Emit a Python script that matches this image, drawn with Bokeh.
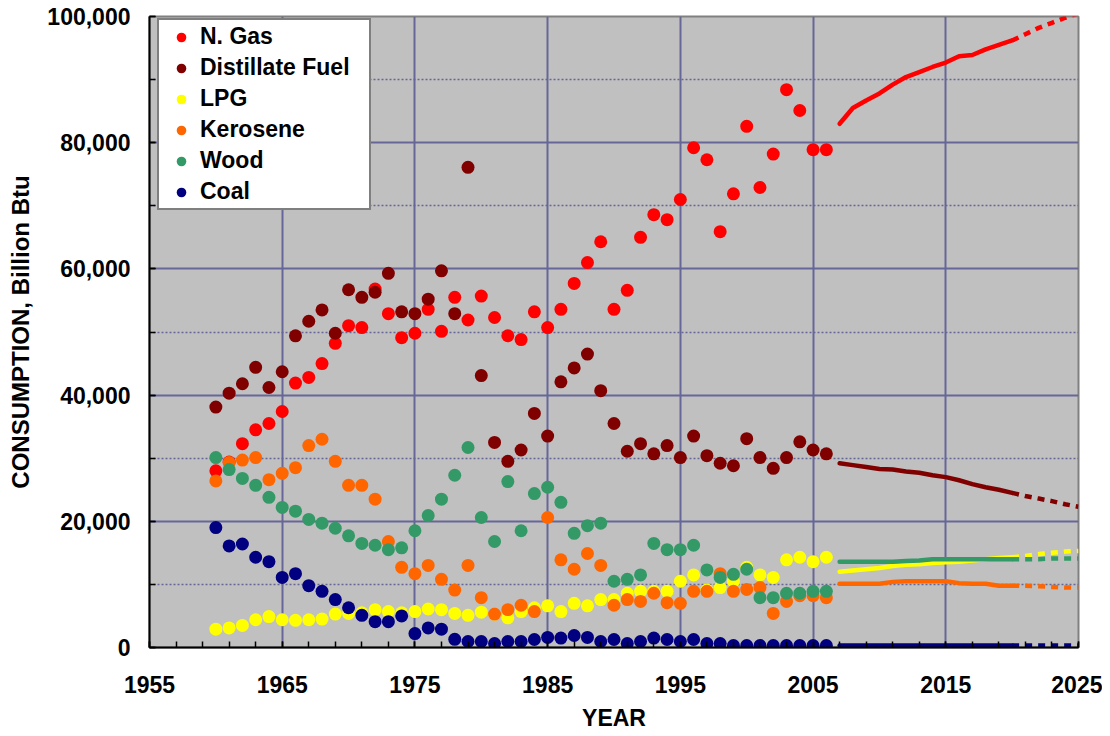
from bokeh.plotting import figure
from bokeh.models import Range1d, FixedTicker, NumeralTickFormatter, Legend, LegendItem
from bokeh.embed import file_html
from bokeh.resources import INLINE

# ---------------- data ----------------
years = list(range(1960, 2007))
ngas = [28000, 29400, 32300, 34500, 35500, 37400, 41900, 42800, 45000, 48200,
        51000, 50700, 56800, 52900, 49100, 49800, 53600, 50100, 55500, 51900,
        55700, 52300, 49400, 48800, 53200, 50700, 53600, 57700, 61000, 64300,
        53600, 56600, 65000, 68600, 67800, 71000, 79200, 77300, 65900, 71900,
        82600, 72900, 78200, 88400, 85100, 78900, 78900]
distillate = [38100, 40300, 41800, 44400, 41200, 43700, 49400, 51700, 53500, 49800,
              56700, 55500, 56300, 59300, 53200, 52900, 55200, 59700, 52900, 76100,
              43100, 32500, 29500, 31300, 37100, 33500, 42100, 44300, 46500, 40700,
              35500, 31100, 32300, 30700, 32000, 30100, 33500, 30400, 29200, 28800,
              33100, 30100, 28400, 30100, 32600, 31300, 30700]
lpg = [2900, 3100, 3500, 4400, 4900, 4400, 4300, 4400, 4500, 5300,
       5400, 5500, 6000, 5700, 5500, 5700, 6100, 6000, 5400, 5100,
       5600, 5300, 4700, 5700, 6300, 6600, 5700, 7000, 6600, 7600,
       7600, 8600, 8900, 8900, 8900, 10500, 11500, 9100, 9500, 10500,
       12700, 11500, 11100, 13900, 14300, 13600, 14300]
kerosene = [26400, 29300, 29700, 30100, 26600, 27600, 28500, 32000, 33000, 29500,
            25700, 25700, 23500, 16800, 12700, 11700, 13000, 10800, 9100, 13000,
            7900, 5300, 6000, 6700, 5700, 20600, 13900, 12400, 14900, 13000,
            6700, 7600, 7300, 8600, 7100, 7000, 8900, 8900, 11700, 8900,
            9200, 9500, 5400, 7300, 8200, 8200, 7900]
wood = [30100, 28200, 26800, 25700, 23800, 22200, 21600, 20300, 19700, 18900,
        17700, 16500, 16200, 15500, 15800, 18500, 20900, 23500, 27300, 31700,
        20600, 16800, 26300, 18500, 24400, 25400, 23000, 18100, 19300, 19700,
        10500, 10800, 11500, 16500, 15500, 15500, 16200, 12300, 11100, 11600,
        12400, 7900, 7900, 8600, 8600, 8900, 8900]
coal = [19000, 16100, 16400, 14300, 13600, 11100, 11700, 9800, 8900, 7600,
        6300, 5100, 4100, 4100, 5000, 2200, 3100, 2900, 1300, 950,
        950, 630, 950, 950, 1270, 1600, 1500, 1900, 1600, 950,
        1270, 630, 950, 1500, 1270, 950, 1270, 630, 630, 320,
        320, 320, 320, 320, 320, 320, 320]

# projections (2007-2025); solid through 2020, dashed after
proj_years = list(range(2007, 2026))
ngas_p = [83000, 85500, 86700, 87800, 89200, 90400, 91200, 92000, 92700, 93700,
          93900, 94800, 95500, 96200, 97200, 98200, 99000, 99800, 100500]
distillate_p = [29200, 28900, 28600, 28300, 28200, 27900, 27700, 27300, 27000, 26500,
                25900, 25400, 25000, 24500, 24000, 23600, 23200, 22700, 22300]
lpg_p = [12000, 12200, 12400, 12600, 12900, 13100, 13200, 13400, 13500, 13600,
         13800, 14000, 14200, 14300, 14500, 14800, 15000, 15200, 15300]
kerosene_p = [10100, 10100, 10100, 10100, 10400, 10500, 10500, 10500, 10500, 10200,
              10100, 10100, 9800, 9800, 9800, 9700, 9600, 9500, 9500]
wood_p = [13600, 13600, 13600, 13600, 13600, 13700, 13800, 14000, 14000, 14000,
          14000, 14000, 14000, 14000, 14000, 14000, 14100, 14100, 14100]
coal_p = [300, 300, 300, 300, 300, 300, 300, 300, 300, 300,
          300, 300, 300, 300, 300, 300, 300, 300, 300]
last_solid_year = 2020

series_names = ["N. Gas", "Distillate Fuel", "LPG", "Kerosene", "Wood", "Coal"]
series_colors = ["#ff0000", "#800000", "#ffff00", "#ff6600", "#339966", "#000080"]
series_hist = [ngas, distillate, lpg, kerosene, wood, coal]
series_proj = [ngas_p, distillate_p, lpg_p, kerosene_p, wood_p, coal_p]

x_ticks = [1955, 1965, 1975, 1985, 1995, 2005, 2015, 2025]
x_minor = list(range(1955, 2026, 2))
y_ticks = [0, 20000, 40000, 60000, 80000, 100000]
y_minor = list(range(0, 100001, 10000))

FONT = "Liberation Sans"

p = figure(width=1102, height=734, output_backend="svg", toolbar_location=None,
           x_range=Range1d(1955, 2025), y_range=Range1d(0, 100000),
           min_border_left=149, min_border_right=24, min_border_top=16, min_border_bottom=87,
           background_fill_color="#c0c0c0", border_fill_color="white")
p.outline_line_color = "#808080"
p.outline_line_width = 2

# grids
p.xgrid.ticker = FixedTicker(ticks=[t for t in x_ticks if 1955 < t < 2025])
p.xgrid.grid_line_color = "#666699"
p.xgrid.grid_line_width = 2
p.ygrid.ticker = FixedTicker(ticks=[t for t in y_ticks if 0 < t < 100000],
                             minor_ticks=[t for t in y_minor if t % 20000 != 0])
p.ygrid.grid_line_color = "#666699"
p.ygrid.grid_line_width = 2
p.ygrid.minor_grid_line_color = "#666699"
p.ygrid.minor_grid_line_width = 1.5
p.ygrid.minor_grid_line_dash = "2 2"

# axes
p.xaxis.ticker = FixedTicker(ticks=x_ticks, minor_ticks=x_minor)
p.yaxis.ticker = FixedTicker(ticks=y_ticks, minor_ticks=y_minor)
p.yaxis.formatter = NumeralTickFormatter(format="0,0")
for ax in (p.xaxis[0], p.yaxis[0]):
    ax.axis_line_color = "black"
    ax.axis_line_width = 2
    ax.major_tick_in = 6
    ax.major_tick_out = 0
    ax.minor_tick_in = 6
    ax.minor_tick_out = 0
    ax.major_tick_line_color = "black"
    ax.minor_tick_line_color = "black"
    ax.major_tick_line_width = 1.5
    ax.minor_tick_line_width = 1.5
    ax.major_label_text_font = FONT
    ax.major_label_text_font_style = "bold"
    ax.major_label_text_font_size = "23px"
    ax.major_label_text_color = "black"
    ax.axis_label_text_font = FONT
    ax.axis_label_text_font_style = "bold"
    ax.axis_label_text_color = "black"
p.xaxis.major_label_standoff = 28
p.xaxis.axis_label = "YEAR"
p.xaxis.axis_label_text_font_size = "23px"
p.xaxis.axis_label_standoff = 9
p.yaxis.major_label_standoff = 19
p.yaxis.axis_label = "CONSUMPTION, Billion Btu"
p.yaxis.axis_label_text_font_size = "24px"
p.yaxis.axis_label_standoff = 10

items = []
for name, col, hist, proj in zip(series_names, series_colors, series_hist, series_proj):
    solid_x = [y for y in proj_years if y <= last_solid_year]
    solid_y = proj[:len(solid_x)]
    dash_x = [y for y in proj_years if y >= last_solid_year]
    dash_y = proj[len(solid_x) - 1:]
    p.line(solid_x, solid_y, line_color=col, line_width=4.5, line_cap="round", line_join="round")
    p.line(dash_x, dash_y, line_color=col, line_width=4.5, line_dash="7 6")
    r = p.scatter(years, hist, size=13, fill_color=col, line_color=None)
    items.append(LegendItem(label=name, renderers=[r]))

legend = Legend(items=items, location=(8, 437), orientation="vertical",
                background_fill_color="white", background_fill_alpha=1.0,
                border_line_color="black", border_line_width=2,
                padding=3, spacing=4, margin=0,
                glyph_width=38, glyph_height=24, label_height=24, label_width=166,
                label_standoff=0,
                label_text_font=FONT, label_text_font_style="bold",
                label_text_font_size="23px", label_text_color="black")
p.add_layout(legend)

open("out.html", "w").write(file_html(p, INLINE))
